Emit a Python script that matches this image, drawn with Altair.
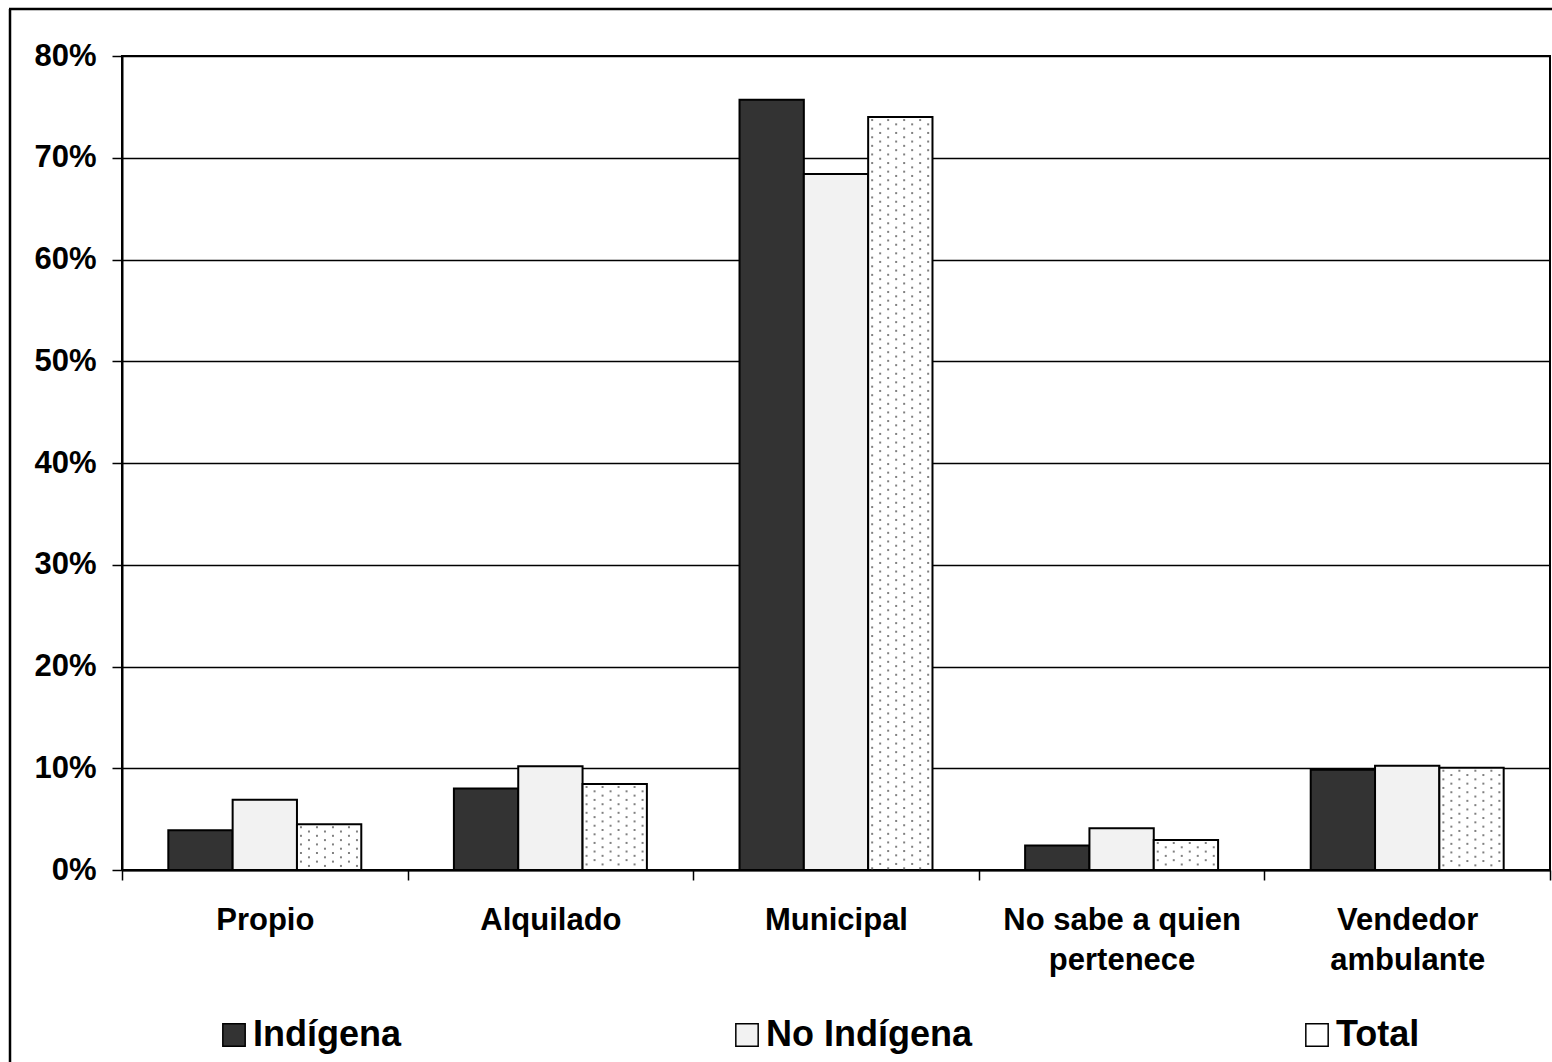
import altair as alt
import pandas as pd

# Categories (use "|" to break an axis label over two lines)
categories = ["Propio", "Alquilado", "Municipal", "No sabe a quien|pertenece", "Vendedor|ambulante"]
series = ["Indígena", "No Indígena", "Total"]

# Percentages per category
indigena = [3.9, 8.0, 75.7, 2.4, 9.85]
no_indigena = [6.9, 10.2, 68.4, 4.1, 10.25]
total = [4.5, 8.45, 74.0, 2.95, 10.05]

fills = ["#333333", "#f2f2f2", "#ffffff"]

rows = []
for s, vals in zip(series, [indigena, no_indigena, total]):
    for c, v in zip(categories, vals):
        rows.append({"categoria": c, "serie": s, "pct": v})
df = pd.DataFrame(rows)

W, H = 1428, 814
BAND_PX = W / len(categories)
PX_PER_UNIT = H / 0.8          # pixels per 1.0 on the y scale
OUTER = 0.72                   # outer padding of the series offset scale
STEP = 1 / (3 + 2 * OUTER)     # one bar, as a fraction of the band

FONT = "Liberation Sans"

base = alt.Chart(df).transform_calculate(valor="datum.pct / 100")

x_enc = alt.X(
    "categoria:N",
    sort=categories,
    scale=alt.Scale(paddingInner=0, paddingOuter=0),
    axis=alt.Axis(
        title=None,
        labelAngle=0,
        labelExpr="split(datum.label, '|')",
        labelFont=FONT,
        labelFontSize=31,
        labelFontWeight="bold",
        labelColor="black",
        labelLineHeight=40,
        labelPadding=25,
        labelBaseline="top",
        labelLimit=400,
        tickBand="extent",
        tickSize=10,
        tickColor="black",
        tickWidth=1.5,
        domainColor="black",
        domainWidth=2,
        grid=False,
    ),
)

bars = base.mark_bar(stroke="black", strokeWidth=2).encode(
    x=x_enc,
    xOffset=alt.XOffset(
        "serie:N",
        sort=series,
        scale=alt.Scale(paddingInner=0, paddingOuter=OUTER),
    ),
    y=alt.Y(
        "valor:Q",
        scale=alt.Scale(domain=[0, 0.8], nice=False),
        axis=alt.Axis(
            title=None,
            values=[0, 0.1, 0.2, 0.3, 0.4, 0.5, 0.6, 0.7, 0.8],
            format=".0%",
            labelFont=FONT,
            labelFontSize=31,
            labelFontWeight="bold",
            labelColor="black",
            labelPadding=16,
            tickSize=10,
            tickColor="black",
            tickWidth=1.5,
            domainColor="black",
            domainWidth=2,
            grid=True,
            gridColor="black",
            gridWidth=1.6,
            gridOpacity=1,
        ),
    ),
    fill=alt.Fill(
        "serie:N",
        sort=series,
        scale=alt.Scale(domain=series, range=fills),
        legend=alt.Legend(
            title=None,
            orient="none",
            direction="horizontal",
            legendX=94,
            legendY=961,
            symbolType="square",
            symbolSize=500,
            symbolStrokeColor="black",
            symbolStrokeWidth=1.5,
            symbolOpacity=1,
            labelFont=FONT,
            labelFontSize=36,
            labelFontWeight="bold",
            labelColor="black",
            labelOffset=1,
            columnPadding=327,
            labelLimit=400,
        ),
    ),
)

# Dotted texture inside the "Total" bars
x0 = (OUTER + 2) * STEP
x1 = (OUTER + 3) * STEP
dots = (
    base.transform_filter(alt.datum.serie == "Total")
    .transform_calculate(r=f"sequence(0, ceil(datum.valor * {PX_PER_UNIT} / 4.3))")
    .transform_flatten(["r"])
    .transform_calculate(k="sequence(0, 5)")
    .transform_flatten(["k"])
    .transform_calculate(
        yv=f"datum.valor - (3 + datum.r * 4.3) / {PX_PER_UNIT}",
        xf=f"{x0} + (4 + datum.k * 16 + (datum.r % 2) * 8) / {BAND_PX}",
    )
    .transform_filter(f"datum.yv > 1.5 / {PX_PER_UNIT} && datum.xf < {x1} - 2.5 / {BAND_PX}")
    .mark_square(size=4, filled=True, color="#808080", opacity=1)
    .encode(
        x=alt.X("categoria:N", sort=categories),
        xOffset=alt.XOffset("xf:Q", scale=alt.Scale(domain=[0, 1], range=[0, BAND_PX])),
        y=alt.Y("yv:Q"),
    )
)

# Outer frame of the chart
frame_src = alt.Chart(pd.DataFrame({"k": [0]}))
frame_left = frame_src.mark_rule(color="black", strokeWidth=2.5).encode(
    x=alt.value(-112), y=alt.value(-47), y2=alt.value(1062)
)
frame_top = frame_src.mark_rule(color="black", strokeWidth=2.5).encode(
    x=alt.value(-113), x2=alt.value(1500), y=alt.value(-47)
)

chart = (
    alt.layer(bars, dots, frame_left, frame_top)
    .resolve_scale(xOffset="independent")
    .properties(
        width=W,
        height=H,
        padding={"left": 122, "top": 56, "right": 2, "bottom": 192},
        autosize=alt.AutoSizeParams(type="none"),
        background="white",
    )
    .configure_view(stroke="black", strokeWidth=2)
)

chart.save("out.html", embed_options={"renderer": "svg", "actions": False})
